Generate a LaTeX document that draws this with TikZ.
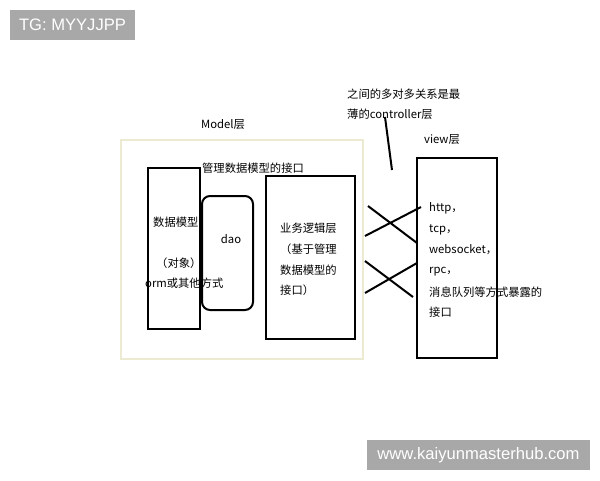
\documentclass[tikz,border=0pt]{standalone}
\usepackage{fontspec}
\setmainfont{Noto Sans CJK SC}
\newfontfamily\markfont{Liberation Sans}
\usetikzlibrary{positioning}
\definecolor{layerline}{HTML}{ECEBD2}
\definecolor{markgray}{HTML}{A8A8A8}
\tikzset{
	box/.style={draw=black, line width=2pt, inner sep=0pt},
	txt/.style={font=\fontsize{11.3}{13}\selectfont, inner sep=0pt, anchor=west},
	wmark/.style={fill=markgray, text=white, font=\markfont\fontsize{16.6}{19}\selectfont, inner sep=0pt}
}

\begin{document}
\begin{tikzpicture}[x=1pt, y=-1pt]

	\useasboundingbox [fill=white] (0,0) rectangle (600,480);

	% Drawing the Model layer
	\draw [layerline, line width=2pt] (121,140) rectangle (363,359);
	\node [txt, anchor=center] (modeltitle) at (223,125) {Model层};
	\node [txt, anchor=center] (daoapi) at (253,168) {管理数据模型的接口};

	% Drawing the boxes inside the Model layer
	\node [box, minimum width=52pt, minimum height=161pt] (datamodel) at (174,248.5) {};
	\node [box, rounded corners=8pt, fill=white, minimum width=51pt, minimum height=114pt] (dao) at (227.5,253) {};
	\node [box, minimum width=89pt, minimum height=163pt] (logic) at (310.5,257.5) {};
	\node [txt, anchor=center] (daotext) at (231,239) {dao};

	% Labeling the data model box
	\node [txt] (dmtext) at (153,222) {数据模型};
	\node [txt] (dmobj) at (156,263) {（对象）};
	\node [txt] (dmorm) at (145,283) {orm或其他方式};

	% Labeling the business logic box
	\node [txt] (lg1) at (280,228) {业务逻辑层};
	\node [txt] (lg2) at (280,249) {（基于管理};
	\node [txt] (lg3) at (280,270) {数据模型的};
	\node [txt] (lg4) at (280,290) {接口）};

	% Drawing the view layer
	\node [txt, anchor=center] (viewtitle) at (442,140) {view层};
	\node [box, minimum width=80pt, minimum height=200pt] (view) at (457,258) {};
	\node [txt] (v1) at (429,208) {http，};
	\node [txt] (v2) at (429,230) {tcp，};
	\node [txt] (v3) at (429,250) {websocket，};
	\node [txt] (v4) at (429,272) {rpc，};
	\node [txt] (v5) at (429,292) {消息队列等方式暴露的};
	\node [txt] (v6) at (429,312) {接口};

	% Drawing the controller crossings
	\node [txt] (ctrl1) at (347,94) {之间的多对多关系是最};
	\node [txt] (ctrl2) at (347,114) {薄的controller层};
	\coordinate (ctrlend) at (392,170);
	\draw [line width=2pt] (385,117) -- (ctrlend);
	\coordinate (a1) at (368,206); \coordinate (b1) at (417,243);
	\coordinate (a2) at (365,236); \coordinate (b2) at (421,207);
	\coordinate (a3) at (365,261); \coordinate (b3) at (413,297);
	\coordinate (a4) at (365,293); \coordinate (b4) at (417,263);
	\foreach \i in {1,...,4}
		\draw [line width=2pt] (a\i) -- (b\i);

	% Watermarks
	\node [wmark, minimum width=125pt, minimum height=30pt] (tg) at (72.5,25) {TG: MYYJJPP};
	\node [wmark, minimum width=223pt, minimum height=30pt] (site) at (478.5,455) {www.kaiyunmasterhub.com};

\end{tikzpicture}
\end{document}
